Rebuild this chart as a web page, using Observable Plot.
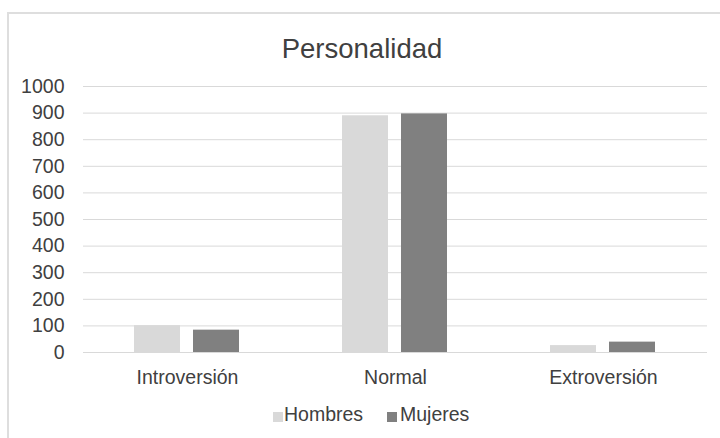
<!DOCTYPE html>
<html><head><meta charset="utf-8">
<script src="https://cdn.jsdelivr.net/npm/d3@7"></script>
<script src="https://cdn.jsdelivr.net/npm/@observablehq/plot@0.6"></script>
<style>
body{margin:0;background:#fff;font-family:"Liberation Sans",Arial,sans-serif;}
#wrap{position:relative;width:720px;height:438px;overflow:hidden;}
#frame{position:absolute;left:7px;top:12px;width:730px;height:450px;border:2px solid #dedede;box-sizing:border-box;}
#title{position:absolute;left:0;width:724px;top:35px;text-align:center;font-size:27.5px;line-height:27.5px;color:#404040;}
#chart{position:absolute;left:0;top:0;}
.lg{position:absolute;font-size:19.5px;line-height:19.5px;color:#404040;top:405px;white-space:nowrap;}
.sw{position:absolute;width:10px;height:10px;top:412px;}
</style></head>
<body>
<div id="wrap">
<div id="frame"></div>
<div id="chart"></div>
<div id="title">Personalidad</div>
<div id="legend"></div>
</div>
<script>
const categories = ["Introversión", "Normal", "Extroversión"];
const series = ["Hombres", "Mujeres"];
const hombres = [101, 890, 26];
const mujeres = [84, 897, 39];
const yTicks = [0,100,200,300,400,500,600,700,800,900,1000];
const colors = ["#d9d9d9", "#808080"];

const rows = [];
categories.forEach((c, i) => {
  rows.push({cat: c, sex: series[0], value: hombres[i]});
  rows.push({cat: c, sex: series[1], value: mujeres[i]});
});

const chart = Plot.plot({
  width: 720,
  height: 438,
  marginTop: 86,
  marginBottom: 86,
  marginLeft: 83,
  marginRight: 13,
  style: {fontFamily: "'Liberation Sans', Arial, sans-serif", fontSize: "19.5px", color: "#404040", background: "transparent"},
  fx: {domain: categories, label: null, padding: 0, tickSize: 0, tickPadding: 18},
  x: {domain: series, axis: null, paddingInner: 0.22, paddingOuter: 0.8725},
  y: {domain: [0, 1000], ticks: yTicks, tickFormat: d => String(d), label: null, tickSize: 0, tickPadding: 19},
  color: {domain: series, range: colors},
  marks: [
    Plot.ruleY(yTicks, {stroke: "#d9d9d9", strokeWidth: 1}),
    Plot.barY(rows, {fx: "cat", x: "sex", y: "value", fill: "sex"})
  ]
});
chart.querySelectorAll("text").forEach(t => t.setAttribute("font-size", "19.5px"));
chart.querySelectorAll("g[aria-label$='axis'], g[aria-label*='tick label']").forEach(g => g.setAttribute("font-size", "19.5px"));
document.getElementById("chart").appendChild(chart);

const wrap = document.getElementById("wrap");
const swLeft = [273, 387];
const txLeft = [284, 400];
series.forEach((s, i) => {
  const sw = document.createElement("div");
  sw.className = "sw";
  sw.style.left = swLeft[i] + "px";
  sw.style.background = colors[i];
  wrap.appendChild(sw);
  const tx = document.createElement("div");
  tx.className = "lg";
  tx.style.left = txLeft[i] + "px";
  tx.textContent = s;
  wrap.appendChild(tx);
});
</script>
</body></html>
